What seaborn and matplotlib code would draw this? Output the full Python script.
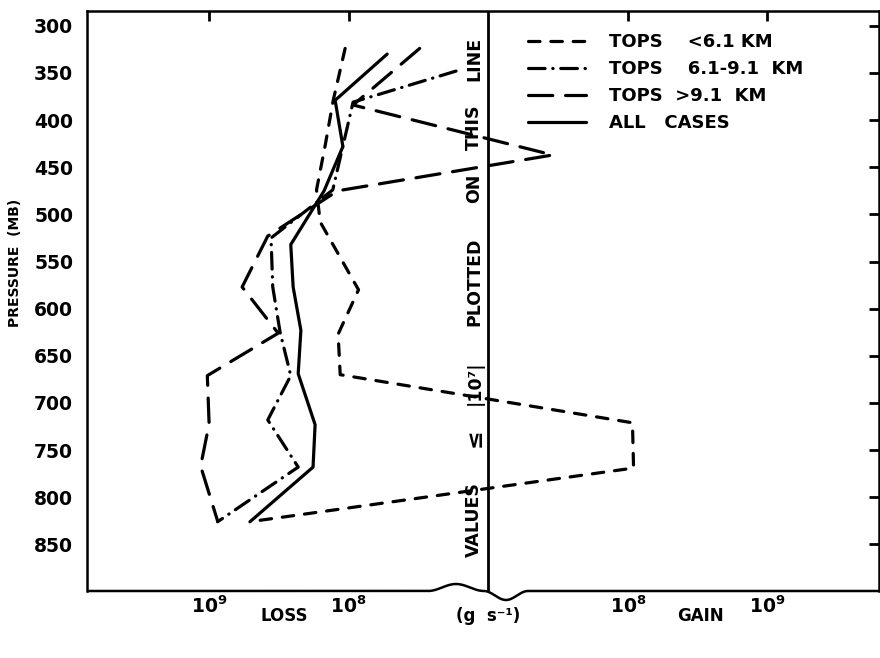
import numpy as np
import pandas as pd
import matplotlib
matplotlib.use("Agg")
import matplotlib.pyplot as plt
import seaborn as sns

# ---------------- data ----------------
# pressure levels (mb) and condensate flux (g s-1; negative = loss, positive = gain)
p_lt6 = [324, 379, 426, 474, 508, 580, 627, 670, 721, 769, 825]
v_lt6 = [-1.06e8, -1.29e8, -1.47e8, -1.7e8, -1.6e8, -8.5e7, -1.19e8, -1.15e8, 1.08e8, 1.1e8, -4.6e8]

p_mid = [348, 381, 474, 525, 577, 625, 671, 718, 768, 826]
v_mid = [-1.7e7, -9.3e7, -1.3e8, -3.6e8, -3.5e8, -3.1e8, -2.6e8, -3.8e8, -2.3e8, -8.7e8]

p_gt9 = [324, 384, 437, 475, 523, 577, 626, 671, 722, 767, 825]
v_gt9 = [-3.1e7, -9.3e7, 2.9e7, -1.2e8, -3.8e8, -5.8e8, -3.2e8, -1.03e9, -1.0e9, -1.15e9, -8.7e8]

p_all = [330, 379, 428, 475, 532, 577, 623, 669, 723, 768, 826]
v_all = [-5.3e7, -1.25e8, -1.1e8, -1.5e8, -2.6e8, -2.5e8, -2.2e8, -2.3e8, -1.74e8, -1.8e8, -5.1e8]

series_labels = ["TOPS    <6.1 KM", "TOPS    6.1-9.1  KM", "TOPS  >9.1  KM", "ALL   CASES"]

y_ticks = [300, 350, 400, 450, 500, 550, 600, 650, 700, 750, 800, 850]
x_ticks = [-1e9, -1e8, 1e8, 1e9]
x_ticklabels = [r"$\mathbf{10^{9}}$", r"$\mathbf{10^{8}}$", r"$\mathbf{10^{8}}$", r"$\mathbf{10^{9}}$"]

center_words = ["LINE", "THIS", "ON", "PLOTTED", "|10\u2077|", "\u2264", "VALUES"]
center_word_p = [335, 408, 472, 571, 679, 737, 824]

# ---------------- table ----------------
frames = []
for lab, p, v in zip(series_labels, [p_lt6, p_mid, p_gt9, p_all], [v_lt6, v_mid, v_gt9, v_all]):
    frames.append(pd.DataFrame({"pressure": p, "flux": v, "series": lab}))
df = pd.concat(frames, ignore_index=True)

# ---------------- style ----------------
sns.set_style("white")
plt.rcParams["font.family"] = ["DejaVu Sans"]
plt.rcParams["font.weight"] = "bold"
plt.rcParams["axes.linewidth"] = 1.8
for k in ["text.color", "axes.labelcolor", "xtick.color", "ytick.color",
          "xtick.labelcolor", "ytick.labelcolor", "axes.edgecolor"]:
    plt.rcParams[k] = "black"

fig = plt.figure(figsize=(8.8, 6.58), dpi=100)
L, R, T, B = 87, 879, 11, 591
ax = fig.add_axes([L / 880, 1 - B / 658, (R - L) / 880, (B - T) / 658])


# split-log scale: |value| <= 1e7 collapses onto the centre line
def fwd(v):
    v = np.asarray(v, dtype=float)
    a = np.maximum(np.abs(v), 1e-300)
    return np.sign(v) * np.clip(np.log10(a) - 7.0, 0, None)


def inv(t):
    t = np.asarray(t, dtype=float)
    return np.sign(t) * 10 ** (np.abs(t) + 7.0)


ax.set_xscale("function", functions=(fwd, inv))

dashes = {
    series_labels[0]: (3.6, 3.4),
    series_labels[1]: (5.2, 2.4, 0.1, 2.4),
    series_labels[2]: (7.6, 4.0),
    series_labels[3]: "",
}

sns.lineplot(
    data=df, x="flux", y="pressure", style="series", style_order=series_labels,
    dashes=dashes, color="black", lw=2.3, estimator=None, sort=True, orient="y",
    dash_capstyle="round", ax=ax, legend=True,
)

ax.set_xlim(inv(-2.875), inv(2.80))
ax.set_ylim(899.4, 284.3)

ax.set_yticks(y_ticks)
ax.set_yticklabels([str(t) for t in y_ticks], fontsize=13.5, fontweight="bold", color="black")
ax.set_xticks(x_ticks)
ax.set_xticklabels(x_ticklabels, fontsize=13.5, color="black")
ax.minorticks_off()
ax.tick_params(axis="both", direction="in", length=7, width=2, top=True, right=True,
               color="black", labelcolor="black")
ax.tick_params(axis="y", pad=10)
ax.tick_params(axis="x", pad=3)

ax.set_xlabel("")
ax.set_ylabel("PRESSURE  (MB)", fontsize=10, fontweight="bold", color="black")
ax.yaxis.set_label_coords(-0.082, 0.566)

for s in ax.spines.values():
    s.set_color("black")
    s.set_linewidth(1.8)
ax.spines["bottom"].set_visible(False)

# bottom axis with break symbol (axes coordinates)
px = np.linspace(L, R, 1500)
dy = np.zeros_like(px)
m1 = (px >= 428) & (px <= 484)
dy[m1] = 7 * np.sin(np.pi * (px[m1] - 428) / 56) ** 2
m2 = (px > 484) & (px <= 528)
dy[m2] = -9 * np.sin(np.pi * (px[m2] - 484) / 44) ** 2
ax.plot((px - L) / (R - L), dy / (B - T), transform=ax.transAxes, color="black",
        lw=1.8, clip_on=False, solid_capstyle="butt")

# centre line for values <= 10^7
ax.axvline(0, color="black", lw=2.0)

for w, p in zip(center_words, center_word_p):
    fs = 16 if w == "\u2264" else 12.5
    ax.annotate(w, xy=(0, p), xytext=(-10, 0), textcoords="offset points", rotation=90,
                ha="center", va="center", fontsize=fs, fontweight="bold", color="black")

# bottom captions
ybot = (B - 616) / (B - T)
ax.text((284 - L) / (R - L), ybot, "LOSS", transform=ax.transAxes, ha="center", va="center",
        fontsize=12, fontweight="bold")
ax.text((488 - L) / (R - L), ybot, "(g  s\u207b\u00b9)", transform=ax.transAxes, ha="center",
        va="center", fontsize=12, fontweight="bold")
ax.text((700 - L) / (R - L), ybot, "GAIN", transform=ax.transAxes, ha="center", va="center",
        fontsize=12, fontweight="bold")

sns.move_legend(
    ax, "upper left", bbox_to_anchor=(528 / 880, 1 - 33 / 658), bbox_transform=fig.transFigure,
    frameon=False, title=None, fontsize=13, handlelength=3.2, handletextpad=1.3,
    labelspacing=0.5, borderpad=0, borderaxespad=0,
)
for t in ax.get_legend().get_texts():
    t.set_fontweight("bold")
    t.set_color("black")

fig.savefig("out.png", dpi=100)
